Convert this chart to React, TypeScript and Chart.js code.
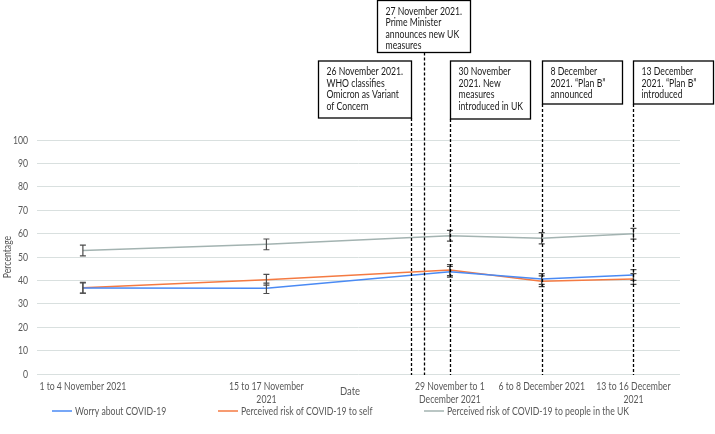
import React, { useEffect, useRef } from "react";
import { Chart, registerables } from "chart.js";

Chart.register(...registerables);

// ---- data ----
const xDays = [1, 15, 29, 36, 43];
const xTickLabels: string[][] = [
  ["1 to 4 November 2021"],
  ["15 to 17 November", "2021"],
  ["29 November to 1", "December 2021"],
  ["6 to 8 December 2021"],
  ["13 to 16 December", "2021"],
];
const worry = [36.7, 36.6, 43.7, 40.6, 42.3];
const riskSelf = [36.9, 40.3, 44.4, 39.6, 40.6];
const riskUK = [52.8, 55.4, 59.1, 58.0, 59.9];
const worryErr = [2.2, 2.2, 2.3, 2.3, 2.3];
const riskSelfErr = [2.3, 2.3, 2.4, 2.3, 2.3];
const riskUKErr = [2.3, 2.3, 2.3, 2.4, 2.3];
const seriesNames = [
  "Worry about COVID-19",
  "Perceived risk of COVID-19 to self",
  "Perceived risk of COVID-19 to people in the UK",
];
const eventDays = [26, 27, 29, 36, 43];
const eventTexts: string[][] = [
  ["26 November 2021.", "WHO classifies", "Omicron as Variant", "of Concern"],
  ["27 November 2021.", "Prime Minister", "announces new UK", "measures"],
  ["30 November", "2021. New", "measures", "introduced in UK"],
  ["8 December", "2021. \u201CPlan B\u201D", "announced"],
  ["13 December", "2021. \u201CPlan B\u201D", "introduced"],
];

// ---- layout / style ----
const FONT = 'Lato, "Liberation Sans", Arial, sans-serif';
const BASE_SIZE = 11;
const REF_TEXT = "1 to 4 November 2021";
const REF_WIDTH = 87;
let SX = 0.85;
const GREY_TEXT = "#595959";
const colors = ["#4a8af4", "#f47a42", "#a3b3b1"];
const boxLayout = [
  { dx: -93, top: 61, w: 93, h: 57 },
  { dx: -47, top: 0.5, w: 93, h: 52 },
  { dx: 0, top: 61, w: 80, h: 58 },
  { dx: 0, top: 61, w: 80, h: 43 },
  { dx: 0, top: 61, w: 80, h: 43 },
];
const legendLayout = [52, 218, 424];

function drawText(
  ctx: CanvasRenderingContext2D,
  text: string,
  x: number,
  y: number,
  align: "left" | "center" | "right",
  size: number,
  color: string
) {
  ctx.save();
  ctx.font = `${size}px ${FONT}`;
  ctx.fillStyle = color;
  ctx.textBaseline = "middle";
  ctx.textAlign = "left";
  const w = ctx.measureText(text).width * SX;
  const left = align === "left" ? x : align === "center" ? x - w / 2 : x - w;
  ctx.translate(left, y);
  ctx.scale(SX, 1);
  ctx.fillText(text, 0, 0);
  ctx.restore();
}

const errorBars = {
  id: "errorBars",
  afterDatasetsDraw(chart: any) {
    const { ctx } = chart;
    const ys = chart.scales.y;
    const errs = [worryErr, riskSelfErr, riskUKErr];
    ctx.save();
    ctx.strokeStyle = "#4d4d4d";
    ctx.lineWidth = 1.2;
    chart.data.datasets.forEach((ds: any, di: number) => {
      const meta = chart.getDatasetMeta(di);
      meta.data.forEach((pt: any, i: number) => {
        const v = ds.data[i].y;
        const e = errs[di][i];
        const x = pt.x;
        const y1 = ys.getPixelForValue(v + e);
        const y2 = ys.getPixelForValue(v - e);
        ctx.beginPath();
        ctx.moveTo(x, y1);
        ctx.lineTo(x, y2);
        ctx.moveTo(x - 3, y1);
        ctx.lineTo(x + 3, y1);
        ctx.moveTo(x - 3, y2);
        ctx.lineTo(x + 3, y2);
        ctx.stroke();
      });
    });
    ctx.restore();
  },
};

const annotations = {
  id: "annotations",
  afterDraw(chart: any) {
    const { ctx, chartArea } = chart;
    const xs = chart.scales.x;
    const ys = chart.scales.y;
    ctx.save();
    ctx.font = `${BASE_SIZE}px ${FONT}`;
    SX = REF_WIDTH / ctx.measureText(REF_TEXT).width;

    // y tick labels
    ys.ticks.forEach((t: any) => {
      drawText(ctx, String(t.value), chartArea.left - 9, ys.getPixelForValue(t.value), "right", BASE_SIZE, GREY_TEXT);
    });
    // y title
    ctx.save();
    ctx.translate(7, (chartArea.top + chartArea.bottom) / 2);
    ctx.rotate(-Math.PI / 2);
    drawText(ctx, "Percentage", 0, 0, "center", BASE_SIZE, GREY_TEXT);
    ctx.restore();

    // x tick labels
    xDays.forEach((d, i) => {
      const px = xs.getPixelForValue(d);
      xTickLabels[i].forEach((line, j) => {
        drawText(ctx, line, px, chartArea.bottom + 12.7 + j * 12.6, "center", BASE_SIZE, GREY_TEXT);
      });
    });
    // x title "Date"
    drawText(ctx, "Date", 350, 391, "center", BASE_SIZE + 1, GREY_TEXT);

    // event lines and boxes
    eventDays.forEach((d, i) => {
      const lx = Math.round(xs.getPixelForValue(d)) + 0.5;
      const b = boxLayout[i];
      const left = lx + b.dx;
      ctx.strokeStyle = "#000";
      ctx.lineWidth = 1.3;
      ctx.setLineDash([3, 2]);
      ctx.beginPath();
      ctx.moveTo(lx, b.top + b.h);
      ctx.lineTo(lx, chartArea.bottom + 1);
      ctx.stroke();
      ctx.setLineDash([]);
      ctx.fillStyle = "#fff";
      ctx.fillRect(left, b.top, b.w, b.h);
      ctx.lineWidth = 1.3;
      ctx.strokeStyle = "#000";
      ctx.strokeRect(left, b.top, b.w, b.h);
      eventTexts[i].forEach((t, j) => {
        drawText(ctx, t, left + 8, b.top + 10.5 + j * 11.6, "left", BASE_SIZE, "#1a1a1a");
      });
    });

    // legend
    seriesNames.forEach((n, i) => {
      const lx = legendLayout[i];
      ctx.strokeStyle = colors[i];
      ctx.lineWidth = 1.5;
      ctx.beginPath();
      ctx.moveTo(lx, 411);
      ctx.lineTo(lx + 20, 411);
      ctx.stroke();
      drawText(ctx, n, lx + 23, 411, "left", BASE_SIZE, GREY_TEXT);
    });
    ctx.restore();
  },
};

export default function App() {
  const ref = useRef<HTMLCanvasElement>(null);
  useEffect(() => {
    document.body.style.margin = "0";
    const series = [worry, riskSelf, riskUK];
    const chart = new Chart(ref.current!, {
      type: "line",
      data: {
        datasets: series.map((s, i) => ({
          label: seriesNames[i],
          data: s.map((v, j) => ({ x: xDays[j], y: v })),
          borderColor: colors[i],
          backgroundColor: colors[i],
          borderWidth: 1.5,
          pointRadius: 0,
          tension: 0,
        })),
      },
      options: {
        responsive: false,
        animation: false,
        layout: { padding: { top: 140, right: 35, left: 0, bottom: 0 } },
        plugins: { legend: { display: false }, tooltip: { enabled: false } },
        scales: {
          x: {
            type: "linear",
            min: -2.5,
            max: 46.55,
            grid: { display: false },
            border: { display: false },
            afterBuildTicks: (scale: any) => {
              scale.ticks = xDays.map((v) => ({ value: v }));
            },
            afterFit: (scale: any) => {
              scale.height = 60;
            },
            ticks: { display: false },
          },
          y: {
            min: 0,
            max: 100,
            grid: { color: "#d9e0df", lineWidth: 1, drawTicks: false },
            border: { display: false },
            afterFit: (scale: any) => {
              scale.width = 37;
            },
            ticks: { stepSize: 10, display: false },
          },
        },
      },
      plugins: [errorBars, annotations],
    } as any);
    return () => chart.destroy();
  }, []);
  return <canvas ref={ref} width={715} height={434} style={{ display: "block" }} />;
}
